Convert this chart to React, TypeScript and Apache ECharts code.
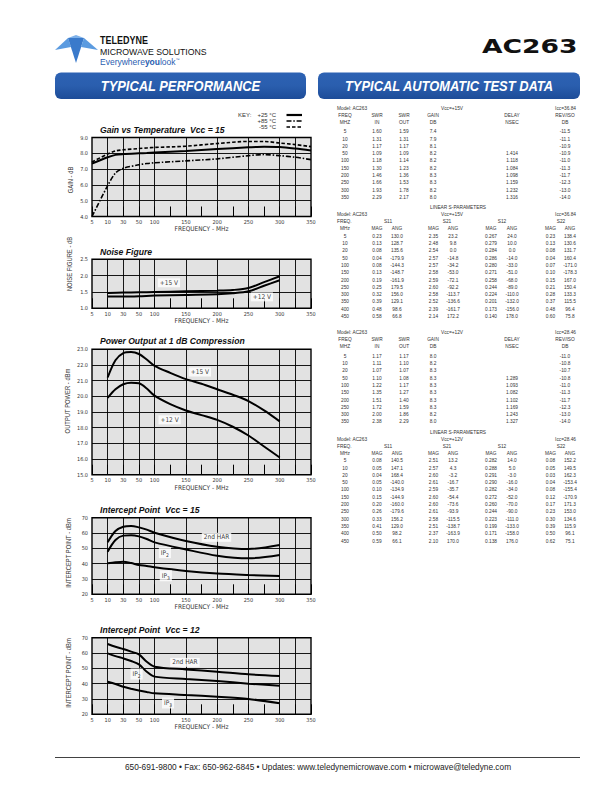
import React, { useEffect, useRef } from 'react';
import * as echarts from 'echarts';

// ---------- axis definition (frequency, MHz) ----------
const xBreakFreqs = [5, 10, 30, 50, 100, 150, 200, 250, 300, 350];
const xBreakPos = [0, 0.5, 1, 1.5, 2, 3, 4, 5, 6, 7];
const xTickLabels = ['5', '10', '30', '50', '100', '150', '200', '250', '300', '350'];
const xFullGridFreqs = [10, 30, 50, 100, 150, 200, 250, 300, 325];

// ---------- Gain vs Temperature ----------
const gainFreqs = [5, 10, 20, 30, 50, 75, 100, 150, 200, 250, 275, 300, 325, 350];
const gain25 = [7.35, 7.75, 7.9, 7.95, 8.0, 8.02, 8.05, 8.15, 8.27, 8.38, 8.42, 8.4, 8.3, 8.17];
const gain85 = [4.0, 5.95, 6.75, 7.05, 7.27, 7.35, 7.4, 7.52, 7.65, 7.85, 7.92, 7.85, 7.75, 7.6];
const gainM55 = [7.45, 7.95, 8.15, 8.22, 8.3, 8.34, 8.37, 8.45, 8.62, 8.75, 8.75, 8.65, 8.55, 8.42];
const gainKey = ['+25 °C', '+85 °C', '-55 °C'];

// ---------- Noise Figure ----------
const nfFreqs = [10, 30, 50, 100, 150, 200, 225, 250, 275, 300];
const nf15 = [1.47, 1.48, 1.49, 1.5, 1.52, 1.54, 1.56, 1.62, 1.8, 1.98];
const nf12 = [1.36, 1.36, 1.37, 1.39, 1.41, 1.43, 1.46, 1.52, 1.69, 1.86];

// ---------- Power output at 1 dB compression ----------
const pFreqs = [10, 20, 30, 40, 50, 75, 100, 125, 150, 175, 200, 225, 250, 275, 300];
const p15 = [21.2, 22.3, 22.75, 22.82, 22.7, 22.35, 21.95, 21.5, 21.1, 20.8, 20.45, 20.1, 19.7, 19.1, 18.4];
const p12 = [19.9, 20.45, 20.77, 20.87, 20.83, 20.5, 20.04, 19.5, 19.1, 18.8, 18.5, 18.06, 17.5, 16.8, 16.1];

// ---------- Intercept points ----------
const ipFreqs = [10, 20, 30, 40, 50, 75, 100, 150, 200, 250, 300];
const har15 = [53.9, 61.3, 64.1, 64.6, 63.7, 62.2, 60.2, 54.8, 51.1, 49.6, 52.2];
const ip2v15 = [47.8, 55.4, 58.3, 58.5, 57.8, 56.1, 53.9, 49.3, 45.2, 43.5, 45.7];
const ip3v15 = [40.2, 40.9, 41.3, 40.4, 39.1, 38.5, 37.6, 35.2, 33.5, 32.6, 32.0];
const har12 = [65.9, 64.1, 62.6, 60.9, 59.1, 54.3, 51.1, 49.3, 47.8, 46.1, 45.0];
const ip2v12 = [59.8, 58.0, 56.5, 54.8, 52.6, 47.8, 44.6, 43.0, 41.7, 40.0, 38.7];
const ip3v12 = [41.3, 39.8, 38.0, 36.7, 35.6, 34.6, 33.7, 32.6, 31.5, 30.0, 27.2];

// ---------- Test data tables ----------
const tblFreqs = ['5', '10', '20', '50', '100', '150', '200', '250', '300', '350'];
const swrIn15 = ['1.60', '1.31', '1.17', '1.09', '1.18', '1.30', '1.46', '1.66', '1.93', '2.29'];
const swrOut15 = ['1.59', '1.31', '1.17', '1.09', '1.14', '1.23', '1.36', '1.53', '1.78', '2.17'];
const gainTbl15 = ['7.4', '7.9', '8.1', '8.2', '8.2', '8.2', '8.3', '8.3', '8.2', '8.0'];
const delay15 = ['', '', '', '1.414', '1.118', '1.084', '1.098', '1.159', '1.232', '1.316'];
const revIso15 = ['-11.5', '-11.1', '-10.9', '-10.9', '-11.0', '-11.3', '-11.7', '-12.3', '-13.0', '-14.0'];

const swrIn12 = ['1.17', '1.11', '1.07', '1.10', '1.22', '1.35', '1.51', '1.72', '2.00', '2.38'];
const swrOut12 = ['1.17', '1.10', '1.07', '1.08', '1.17', '1.27', '1.40', '1.59', '1.86', '2.29'];
const gainTbl12 = ['8.0', '8.2', '8.3', '8.3', '8.3', '8.3', '8.3', '8.3', '8.2', '8.0'];
const delay12 = ['', '', '', '1.289', '1.093', '1.082', '1.102', '1.169', '1.243', '1.327'];
const revIso12 = ['-11.0', '-10.8', '-10.7', '-10.8', '-11.0', '-11.3', '-11.7', '-12.3', '-13.0', '-14.0'];

const sFreqs = ['5', '10', '20', '50', '100', '150', '200', '250', '300', '350', '400', '450'];
const s11Mag15 = ['0.23', '0.13', '0.08', '0.04', '0.08', '0.13', '0.19', '0.25', '0.32', '0.39', '0.48', '0.58'];
const s11Ang15 = ['130.0', '128.7', '135.6', '-179.9', '-144.3', '-148.7', '-161.9', '179.5', '156.0', '129.1', '98.6', '66.8'];
const s21Mag15 = ['2.35', '2.48', '2.54', '2.57', '2.57', '2.58', '2.59', '2.60', '2.58', '2.52', '2.39', '2.14'];
const s21Ang15 = ['23.2', '9.8', '0.0', '-14.8', '-34.2', '-53.0', '-72.1', '-92.2', '-113.7', '-136.6', '-161.7', '172.2'];
const s12Mag15 = ['0.267', '0.279', '0.284', '0.286', '0.280', '0.271', '0.258', '0.244', '0.224', '0.201', '0.173', '0.140'];
const s12Ang15 = ['24.0', '10.0', '0.0', '-14.0', '-33.0', '-51.0', '-68.0', '-89.0', '-110.0', '-132.0', '-156.0', '178.0'];
const s22Mag15 = ['0.23', '0.13', '0.08', '0.04', '0.07', '0.10', '0.15', '0.21', '0.28', '0.37', '0.48', '0.60'];
const s22Ang15 = ['138.4', '130.6', '131.7', '160.4', '-171.0', '-178.3', '167.0', '150.4', '133.3', '115.5', '96.4', '75.8'];

const s11Mag12 = ['0.08', '0.05', '0.04', '0.05', '0.10', '0.15', '0.20', '0.26', '0.33', '0.41', '0.50', '0.59'];
const s11Ang12 = ['140.5', '147.1', '168.4', '-140.0', '-134.9', '-144.9', '-160.0', '-179.6', '156.2', '129.0', '98.2', '66.1'];
const s21Mag12 = ['2.51', '2.57', '2.60', '2.61', '2.59', '2.60', '2.60', '2.61', '2.58', '2.51', '2.37', '2.10'];
const s21Ang12 = ['13.2', '4.3', '-3.2', '-16.7', '-35.7', '-54.4', '-73.6', '-93.9', '-115.5', '-138.7', '-163.9', '170.0'];
const s12Mag12 = ['0.282', '0.288', '0.291', '0.290', '0.282', '0.272', '0.260', '0.244', '0.223', '0.199', '0.171', '0.138'];
const s12Ang12 = ['14.0', '5.0', '-3.0', '-16.0', '-34.0', '-52.0', '-70.0', '-90.0', '-111.0', '-133.0', '-158.0', '176.0'];
const s22Mag12 = ['0.08', '0.05', '0.03', '0.04', '0.08', '0.12', '0.17', '0.23', '0.30', '0.39', '0.50', '0.62'];
const s22Ang12 = ['152.2', '149.5', '162.3', '-153.4', '-155.4', '-170.9', '171.3', '153.0', '134.6', '115.9', '96.1', '75.1'];

// ---------- helpers ----------
const SANS = "'Liberation Sans', Arial, sans-serif";
const NARROW = "'Liberation Sans Narrow', 'DejaVu Sans Condensed', 'Liberation Sans', sans-serif";
const DASHDOT = [5, 1.8, 1.5, 1.8];
const DASHED = [3.5, 2];

function freqToPos(f: number): number {
  for (let i = 0; i < xBreakFreqs.length - 1; i++) {
    const f0 = xBreakFreqs[i];
    const f1 = xBreakFreqs[i + 1];
    if (f <= f1) return xBreakPos[i] + ((f - f0) / (f1 - f0)) * (xBreakPos[i + 1] - xBreakPos[i]);
  }
  return xBreakPos[xBreakPos.length - 1];
}

function xLabelFmt(v: number): string {
  const i = xBreakPos.findIndex((p) => Math.abs(p - v) < 1e-6);
  return i >= 0 ? xTickLabels[i] : '';
}

function curve(name: string, gi: number, freqs: number[], vals: number[], type: any, width: number) {
  return {
    type: 'line',
    name,
    xAxisIndex: gi,
    yAxisIndex: gi,
    data: freqs.map((f, i) => [freqToPos(f), vals[i]]),
    symbol: 'none',
    showSymbol: false,
    smooth: 0.3,
    silent: true,
    z: 5,
    lineStyle: { color: '#000', width, type },
    itemStyle: { color: '#000' },
  };
}

function gridLineSeries(gi: number, ymin: number) {
  return {
    type: 'line',
    name: 'grid' + gi,
    xAxisIndex: gi,
    yAxisIndex: gi,
    data: [[0, ymin]],
    symbol: 'none',
    silent: true,
    z: 2,
    lineStyle: { width: 0 },
    markLine: {
      silent: true,
      symbol: ['none', 'none'],
      label: { show: false },
      lineStyle: { color: '#000', width: 0.9, type: 'solid' },
      data: xFullGridFreqs.map((f) => ({ xAxis: freqToPos(f) })),
    },
  };
}

function labelSeries(gi: number, items: { f: number; v: number; text: string }[]) {
  return {
    type: 'scatter',
    name: 'labels' + gi,
    xAxisIndex: gi,
    yAxisIndex: gi,
    silent: true,
    z: 10,
    symbol: 'rect',
    symbolSize: 1,
    itemStyle: { color: 'rgba(0,0,0,0)' },
    data: items.map((it) => ({ value: [freqToPos(it.f), it.v], label: { formatter: it.text } })),
    label: {
      show: true,
      position: 'inside',
      fontSize: 6.5,
      color: '#000',
      fontFamily: NARROW,
      backgroundColor: '#fff',
      padding: [1, 2, 1, 2],
      rich: { s: { fontSize: 5, color: '#000', fontFamily: NARROW, padding: [4, 0, 0, 0] } },
    },
  };
}

const grids = [
  { left: 92, top: 137.5, width: 219, height: 79 },
  { left: 92, top: 259.3, width: 219, height: 49 },
  { left: 92, top: 349.3, width: 219, height: 125.4 },
  { left: 92, top: 517.7, width: 219, height: 76.6 },
  { left: 92, top: 637.7, width: 219, height: 76.6 },
];
const yDefs = [
  { min: 4, max: 9, interval: 1, dec: 1 },
  { min: 1, max: 2.5, interval: 0.5, dec: 1 },
  { min: 15, max: 23, interval: 1, dec: 1 },
  { min: 20, max: 70, interval: 10, dec: 0 },
  { min: 20, max: 70, interval: 10, dec: 0 },
];
const chartTitles = [
  { text: 'Gain vs Temperature  Vcc = 15', y: 130 },
  { text: 'Noise Figure', y: 251.7 },
  { text: 'Power Output at 1 dB Compression', y: 341 },
  { text: 'Intercept Point  Vcc = 15', y: 510 },
  { text: 'Intercept Point  Vcc = 12', y: 630 },
];
const yNames = [
  { text: 'GAIN - dB', x: 70, y: 180 },
  { text: 'NOISE FIGURE - dB', x: 69, y: 264 },
  { text: 'OUTPUT POWER - dBm', x: 67, y: 401 },
  { text: 'INTERCEPT POINT - dBm', x: 68, y: 553 },
  { text: 'INTERCEPT POINT - dBm', x: 68, y: 673 },
];

function buildGraphics() {
  const g: any[] = [];
  const txt = (x: number, y: number, text: string, o: any = {}) => {
    const { scaleX, rotation, ...style } = o;
    const align = style.align || 'center';
    g.push({
      type: 'text',
      x,
      y,
      silent: true,
      scaleX: scaleX ?? 1,
      rotation: rotation ?? 0,
      style: {
        text,
        fontSize: 5.5,
        fontFamily: SANS,
        fill: '#333',
        ...style,
        align,
        textAlign: align,
        verticalAlign: 'middle',
        textVerticalAlign: 'middle',
      },
    });
  };

  // logo
  const logo = [
    { p: [[55, 50], [68, 38], [71, 47]], c: '#5b9be0' },
    { p: [[68, 38], [84, 38], [76, 63]], c: '#3a7acb' },
    { p: [[84, 38], [98, 50], [81, 47]], c: '#5b9be0' },
    { p: [[68, 38], [76, 35], [84, 38]], c: '#7fb2ea' },
  ];
  logo.forEach((t) => g.push({ type: 'polygon', silent: true, shape: { points: t.p }, style: { fill: t.c } }));
  txt(100, 40.5, 'TELEDYNE', { align: 'left', fontSize: 10, fontWeight: 'bold', fill: '#111', scaleX: 0.9 });
  txt(100, 51.5, 'MICROWAVE SOLUTIONS', { align: 'left', fontSize: 9.5, fill: '#111', scaleX: 0.92 });
  g.push({
    type: 'text',
    x: 100,
    y: 61.5,
    silent: true,
    style: {
      text: '{a|Everywhere}{b|you}{a|look}{t|™}',
      align: 'left',
      textAlign: 'left',
      verticalAlign: 'middle',
      textVerticalAlign: 'middle',
      fill: '#2a5db0',
      rich: {
        a: { fontSize: 8.5, fontFamily: SANS, fill: '#2a5db0', color: '#2a5db0' },
        b: { fontSize: 8.5, fontFamily: SANS, fontWeight: 'bold', fill: '#2a5db0', color: '#2a5db0' },
        t: { fontSize: 4, fontFamily: SANS, fill: '#2a5db0', color: '#2a5db0', padding: [0, 0, 5, 0] },
      },
    },
  });
  txt(482, 46.5, 'AC263', { align: 'left', fontSize: 19, fontWeight: 900, fill: '#111', scaleX: 1.4, fontFamily: "'DejaVu Sans', sans-serif" });

  // banners
  const banners = [
    { x: 55, w: 251, text: 'TYPICAL PERFORMANCE' },
    { x: 318, w: 262, text: 'TYPICAL AUTOMATIC TEST DATA' },
  ];
  banners.forEach((b) => {
    g.push({
      type: 'rect',
      silent: true,
      shape: { x: b.x, y: 72.5, width: b.w, height: 26.5, r: 6 },
      style: {
        fill: new echarts.graphic.LinearGradient(0, 0, 0, 1, [
          { offset: 0, color: '#2d62b3' },
          { offset: 0.5, color: '#2a5eae' },
          { offset: 1, color: '#1d4c98' },
        ]),
      },
    });
    txt(b.x + b.w / 2, 86, b.text, {
      fontSize: 15,
      fontWeight: 'bold',
      fontStyle: 'italic',
      fill: '#fff',
      scaleX: 0.86,
    });
  });

  // chart titles and y names
  chartTitles.forEach((t) =>
    txt(100, t.y, t.text, { align: 'left', fontSize: 8.6, fontWeight: 'bold', fontStyle: 'italic', fill: '#111' })
  );
  yNames.forEach((t) => txt(t.x, t.y, t.text, { fontSize: 6.5, fill: '#333', rotation: Math.PI / 2, scaleX: 0.9 }));

  // key of gain chart
  txt(238, 115, 'KEY:', { align: 'left', fontSize: 6, fill: '#333' });
  const keyStyles = [
    { dash: null, w: 2.2 },
    { dash: DASHDOT, w: 1.5 },
    { dash: DASHED, w: 1.5 },
  ];
  gainKey.forEach((k, i) => {
    const y = 115 + i * 6;
    txt(276, y, k, { align: 'right', fontSize: 6, fill: '#333' });
    g.push({
      type: 'line',
      silent: true,
      shape: { x1: 286.5, y1: y, x2: 302, y2: y },
      style: { stroke: '#000', lineWidth: keyStyles[i].w, lineDash: keyStyles[i].dash },
    });
  });

  // tables
  const TS = { fontSize: 6, fill: '#333', scaleX: 0.8 };
  const mainX = [345, 377, 404, 433, 512, 565];
  const mainH1 = ['FREQ', 'SWR', 'SWR', 'GAIN', 'DELAY', 'REV/ISO'];
  const mainH2 = ['MHZ', 'IN', 'OUT', 'DB', 'NSEC', 'DB'];
  const modelLine = (y: number, vcc: string, icc: string) => {
    txt(337, y, 'Model: AC263', { ...TS, align: 'left' });
    txt(452, y, vcc, TS);
    txt(576, y, icc, { ...TS, align: 'right' });
  };
  const mainTable = (y0: number, vcc: string, icc: string, cols: string[][]) => {
    modelLine(y0, vcc, icc);
    mainH1.forEach((h, i) => txt(mainX[i], y0 + 7, h, TS));
    mainH2.forEach((h, i) => txt(mainX[i], y0 + 14, h, TS));
    tblFreqs.forEach((f, r) => {
      const y = y0 + 23.5 + r * 7.3;
      txt(mainX[0], y, f, TS);
      cols.forEach((c, ci) => {
        if (c[r]) txt(mainX[ci + 1], y, c[r], TS);
      });
    });
  };
  const sX = [345, 377, 397, 433.5, 453, 491, 512, 550.5, 570];
  const sGroupX = [388, 447, 502, 561];
  const sGroup = ['S11', 'S21', 'S12', 'S22'];
  const sSub = ['MHz', 'MAG', 'ANG', 'MAG', 'ANG', 'MAG', 'ANG', 'MAG', 'ANG'];
  const sTable = (yL: number, vcc: string, icc: string, cols: string[][]) => {
    txt(458, yL, 'LINEAR S-PARAMETERS', TS);
    modelLine(yL + 7, vcc, icc);
    txt(337, yL + 14, 'FREQ.', { ...TS, align: 'left' });
    sGroup.forEach((s, i) => txt(sGroupX[i], yL + 14, s, TS));
    sSub.forEach((s, i) => txt(sX[i], yL + 21, s, TS));
    sFreqs.forEach((f, r) => {
      const y = yL + 28.5 + r * 7.3;
      txt(sX[0], y, f, TS);
      cols.forEach((c, ci) => txt(sX[ci + 1], y, c[r], TS));
    });
  };
  mainTable(107.5, 'Vcc=+15V', 'Icc=36.84', [swrIn15, swrOut15, gainTbl15, delay15, revIso15]);
  sTable(207, 'Vcc=+15V', 'Icc=36.84', [s11Mag15, s11Ang15, s21Mag15, s21Ang15, s12Mag15, s12Ang15, s22Mag15, s22Ang15]);
  mainTable(332, 'Vcc=+12V', 'Icc=28.46', [swrIn12, swrOut12, gainTbl12, delay12, revIso12]);
  sTable(431.5, 'Vcc=+12V', 'Icc=28.46', [s11Mag12, s11Ang12, s21Mag12, s21Ang12, s12Mag12, s12Ang12, s22Mag12, s22Ang12]);

  // footer
  g.push({ type: 'line', silent: true, shape: { x1: 55, y1: 757.5, x2: 580, y2: 757.5 }, style: { stroke: '#111', lineWidth: 0.8 } });
  txt(318, 767, '650-691-9800 • Fax: 650-962-6845 • Updates: www.teledynemicrowave.com • microwave@teledyne.com', {
    fontSize: 8.3,
    fill: '#222',
  });
  return g;
}

function buildOption() {
  const series: any[] = [];
  grids.forEach((_, gi) => series.push(gridLineSeries(gi, yDefs[gi].min)));
  series.push(curve(gainKey[0], 0, gainFreqs, gain25, 'solid', 2));
  series.push(curve(gainKey[1], 0, gainFreqs, gain85, DASHDOT, 1.6));
  series.push(curve(gainKey[2], 0, gainFreqs, gainM55, DASHED, 1.6));
  series.push(curve('NF +15 V', 1, nfFreqs, nf15, 'solid', 2));
  series.push(curve('NF +12 V', 1, nfFreqs, nf12, 'solid', 2));
  series.push(curve('P1dB +15 V', 2, pFreqs, p15, 'solid', 2));
  series.push(curve('P1dB +12 V', 2, pFreqs, p12, 'solid', 2));
  series.push(curve('2nd HAR 15', 3, ipFreqs, har15, 'solid', 2));
  series.push(curve('IP2 15', 3, ipFreqs, ip2v15, 'solid', 2));
  series.push(curve('IP3 15', 3, ipFreqs, ip3v15, 'solid', 2));
  series.push(curve('2nd HAR 12', 4, ipFreqs, har12, 'solid', 2));
  series.push(curve('IP2 12', 4, ipFreqs, ip2v12, 'solid', 2));
  series.push(curve('IP3 12', 4, ipFreqs, ip3v12, 'solid', 2));

  series.push(labelSeries(1, [
    { f: 123, v: 1.78, text: '+15 V' },
    { f: 271.5, v: 1.35, text: '+12 V' },
  ]));
  series.push(labelSeries(2, [
    { f: 172.5, v: 21.55, text: '+15 V' },
    { f: 124, v: 18.5, text: '+12 V' },
  ]));
  series.push(labelSeries(3, [
    { f: 199, v: 57.2, text: '2nd HAR' },
    { f: 116.5, v: 47.2, text: 'IP{s|2}' },
    { f: 118, v: 32.1, text: 'IP{s|3}' },
  ]));
  series.push(labelSeries(4, [
    { f: 148.5, v: 53.9, text: '2nd HAR' },
    { f: 47, v: 46.3, text: 'IP{s|2}' },
    { f: 121.5, v: 27.4, text: 'IP{s|3}' },
  ]));

  return {
    animation: false,
    backgroundColor: '#fff',
    grid: grids.map((g) => ({
      ...g,
      show: true,
      backgroundColor: '#e2e2e2',
      borderColor: '#000',
      borderWidth: 1.4,
      containLabel: false,
    })),
    xAxis: grids.map((_, gi) => ({
      gridIndex: gi,
      type: 'value',
      min: 0,
      max: 7,
      interval: 0.5,
      axisLine: { show: false },
      axisTick: { show: true, inside: true, length: 10, lineStyle: { color: '#000', width: 1 } },
      splitLine: { show: false },
      axisLabel: { fontSize: 5.5, color: '#333', margin: 2.5, fontFamily: NARROW, formatter: xLabelFmt },
      name: 'FREQUENCY - MHz',
      nameLocation: 'middle',
      nameGap: 8,
      nameTextStyle: { fontSize: 6.5, color: '#333', fontFamily: NARROW, verticalAlign: 'top' },
    })),
    yAxis: yDefs.map((d, gi) => ({
      gridIndex: gi,
      type: 'value',
      min: d.min,
      max: d.max,
      interval: d.interval,
      axisLine: { show: false },
      axisTick: { show: false },
      splitLine: { show: true, lineStyle: { color: '#000', width: 0.9 } },
      axisLabel: {
        fontSize: 5.5,
        color: '#333',
        margin: 4,
        fontFamily: NARROW,
        formatter: (v: number) => v.toFixed(d.dec),
      },
    })),
    series,
    graphic: { elements: buildGraphics() },
  };
}

export default function App() {
  const ref = useRef<HTMLDivElement>(null);
  useEffect(() => {
    const chart = echarts.init(ref.current!, null, { renderer: 'svg' });
    chart.setOption(buildOption() as any);
    return () => chart.dispose();
  }, []);
  return (
    <div
      ref={ref}
      style={{ position: 'absolute', left: 0, top: 0, width: 612, height: 792, background: '#fff' }}
    />
  );
}
